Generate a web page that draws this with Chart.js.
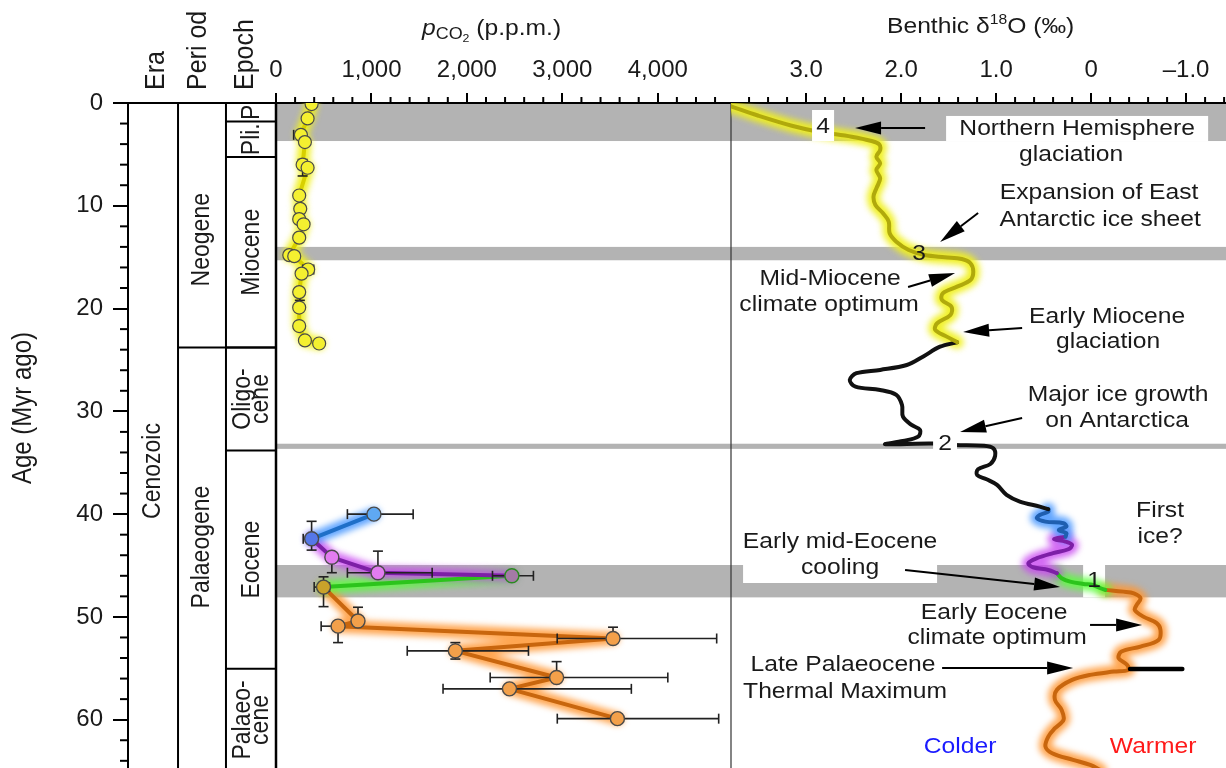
<!DOCTYPE html>
<html>
<head>
<meta charset="utf-8">
<script src="https://cdn.jsdelivr.net/npm/chart.js@4.4.1/dist/chart.umd.min.js"></script>
<style>
  html, body { margin: 0; padding: 0; background: #fff; }
  #wrap { width: 1226px; height: 768px; }
</style>
</head>
<body>
<div id="wrap"><canvas id="chart" width="1226" height="768"></canvas></div>
<script>
// Axis ranges and tick labels
const ageMax = 64.7;
const co2Max = 4767;
const o18Min = -1.42, o18Max = 3.79;
const ageTicks = [0, 10, 20, 30, 40, 50, 60];
const co2Ticks = [0, 1000, 2000, 3000, 4000];
const o18Ticks = [3, 2, 1, 0, -1];

// Neogene pCO2 (yellow)
const neoAge = [0.1, 1.5, 3.1, 3.8, 6.0, 6.3, 9.0, 10.3, 11.3, 11.8, 13.1, 14.8, 14.9, 16.2, 16.6, 18.4, 19.9, 21.7, 23.1, 23.4];
const neoCo2 = [373, 331, 261, 303, 279, 331, 243, 254, 243, 289, 243, 139, 191, 337, 268, 243, 243, 243, 303, 452];

// Palaeogene pCO2 (blue -> purple -> green -> orange)
const eoAge = [40.0, 42.4, 44.2, 45.7, 46.0, 47.1, 50.4, 50.9, 52.1, 53.3, 55.9, 57.0, 59.9];
const eoCo2 = [1026, 373, 585, 1068, 2471, 498, 859, 650, 3531, 1879, 2940, 2446, 3577];
const eoBlue = [0, 1], eoPurple = [1, 4], eoGreen = [4, 5], eoOrange = [5, 12]; // index ranges

// pCO2 error bars
const co2ErrAge = [3.1, 16.2, 40.0, 42.4, 45.7, 46.0, 47.1, 50.9, 52.1, 53.3, 55.9, 57.0, 59.9];
const co2ErrLo = [185, 280, 748, 285, 748, 2268, 400, 473, 2946, 1375, 2244, 1750, 2947];
const co2ErrHi = [300, 395, 1437, 420, 1636, 2697, 560, 700, 4617, 2645, 4105, 3723, 4638];
const ageErrCo2 = [279, 250, 373, 585, 1068, 498, 859, 650, 3531, 1879, 2940];
const ageErrTop = [5.5, 18.4, 40.7, 43.8, 43.6, 46.1, 49.06, 50.45, 51.0, 52.5, 54.35];
const ageErrBot = [7.1, 19.2, 43.5, 45.7, 45.7, 49.0, 50.4, 52.5, 52.1, 54.1, 55.9];

// Benthic d18O curve, split by colour
const o18YelAge = [0.3, 1.24, 2.21, 2.79, 3.28, 3.70, 4.02, 4.57, 5.22, 5.87, 6.52, 7.33, 8.30, 9.11, 9.92, 10.73, 11.54, 12.68, 13.49, 14.30, 14.79, 15.01, 15.18, 15.59, 16.41, 17.22, 17.87, 18.51, 19.16, 19.82, 20.62, 21.43, 22.08, 22.73, 23.28];
const o18YelVal = [3.80, 3.50, 3.15, 2.87, 2.52, 2.31, 2.23, 2.22, 2.26, 2.22, 2.26, 2.22, 2.26, 2.29, 2.27, 2.19, 2.13, 2.12, 2.05, 1.92, 1.75, 1.54, 1.36, 1.27, 1.24, 1.27, 1.41, 1.56, 1.57, 1.47, 1.48, 1.62, 1.64, 1.52, 1.41];
const o18BlkAge = [23.28, 23.71, 24.68, 25.49, 25.97, 26.29, 26.95, 27.60, 27.92, 28.40, 29.38, 30.52, 31.32, 31.81, 32.46, 32.88, 33.20, 33.17, 33.14, 33.27, 33.34, 33.59, 34.34, 35.12, 35.63, 36.19, 36.61, 37.16, 38.13, 38.78, 39.27, 39.52];
const o18BlkVal = [1.41, 1.59, 1.77, 1.94, 2.22, 2.47, 2.54, 2.48, 2.22, 2.05, 1.99, 1.98, 1.89, 1.80, 1.82, 1.98, 2.17, 1.94, 1.66, 1.43, 1.13, 1.03, 1.01, 1.06, 1.19, 1.20, 1.10, 0.99, 0.89, 0.75, 0.54, 0.45];
const o18BluAge = [39.52, 39.76, 40.08, 40.40, 40.73, 40.89, 41.22, 41.54, 41.86, 42.19];
const o18BluVal = [0.45, 0.45, 0.54, 0.57, 0.48, 0.29, 0.26, 0.34, 0.26, 0.27];
const o18PurAge = [42.19, 42.45, 42.67, 43.0, 43.42, 43.80, 44.29, 44.78, 45.17, 45.43, 45.75];
const o18PurVal = [0.27, 0.39, 0.27, 0.20, 0.24, 0.40, 0.57, 0.66, 0.61, 0.45, 0.36];
const o18GrnAge = [45.75, 46.24, 46.57, 46.79, 46.89, 47.21, 47.37];
const o18GrnVal = [0.36, 0.31, 0.22, 0.08, -0.02, -0.10, -0.15];
const o18OrgAge = [47.37, 47.54, 47.70, 48.18, 48.83, 49.32, 49.97, 50.61, 51.26, 52.24, 52.89, 53.37, 54.02, 54.67, 55.16, 55.32, 55.64, 56.13, 57.10, 58.07, 59.05, 60.02, 60.83, 61.64, 62.62, 63.26, 63.91, 64.40, 64.90];
const o18OrgVal = [-0.15, -0.34, -0.45, -0.52, -0.48, -0.46, -0.55, -0.69, -0.73, -0.71, -0.52, -0.32, -0.29, -0.38, -0.39, -0.24, 0.01, 0.20, 0.36, 0.38, 0.31, 0.29, 0.38, 0.45, 0.48, 0.41, 0.19, 0.01, -0.10];
const petmAge = [55.06, 55.06];
const petmVal = [-0.41, -0.96];

// Grey bands (glacial events), ages
const bandTop = [0.1, 14.0, 33.15, 44.95];
const bandBot = [3.7, 15.3, 33.65, 48.1];

// Geological time scale
const epochNames = ['P', 'Pli.', 'Miocene', 'Oligo-\ncene', 'Eocene', 'Palaeo-\ncene'];
const epochTop = [0, 1.8, 5.25, 23.8, 33.8, 55.05];
const epochBot = [1.8, 5.25, 23.8, 33.8, 55.05, 65];
const periodNames = ['Neogene', 'Palaeogene'];
const periodBoundary = 23.8;
const periodLabelAt = [13.3, 43.2];
const eraNames = ['Cenozoic'];
const eraLabelAt = [35.8];

const FONT = "'Liberation Sans', Arial, Helvetica, sans-serif";
const SX = 1.12; // the figure's lettering is slightly wide

const pts = (ages, vals) => ages.map((a, i) => ({ x: vals[i], y: a }));
const slice = (arr, r) => arr.slice(r[0], r[1] + 1);

function lineSet(ages, vals, axis, color, width, tension, order, glow) {
    return {
        data: pts(ages, vals), xAxisID: axis, yAxisID: 'y', showLine: true,
        borderColor: color, borderWidth: width, pointRadius: 0, pointHoverRadius: 0,
        tension: tension, order: order, borderJoinStyle: 'round', borderCapStyle: 'round',
        fill: false, glow: glow
    };
}
function glowPair(ages, vals, axis, core, halo, tension) {
    return [
        lineSet(ages, vals, axis, halo, 13, tension, 30, true),
        lineSet(ages, vals, axis, core, 4, tension, 10, false)
    ];
}

const eoFill = ['#5fa8f2', '#5577e8', '#e27cf0', '#e27cf0', '#a47aa6', '#c9a22a', '#f3a04a', '#f3a04a', '#f3a04a', '#f3a04a', '#f3a04a', '#f3a04a', '#f3a04a'];
const eoStroke = eoFill.map((c, i) => i === 4 ? '#2a8a20' : '#4a4a4a');

const datasets = [
    // benthic curve
    ...glowPair(o18YelAge, o18YelVal, 'xo', '#b0a90c', 'rgba(240,240,30,0.95)', 0.35),
    lineSet(o18BlkAge, o18BlkVal, 'xo', '#111111', 4, 0.35, 10, false),
    ...glowPair(o18BluAge, o18BluVal, 'xo', '#1f5fb0', 'rgba(70,150,255,0.85)', 0.35),
    ...glowPair(o18PurAge, o18PurVal, 'xo', '#7d1fa6', 'rgba(200,70,240,0.8)', 0.35),
    ...glowPair(o18GrnAge, o18GrnVal, 'xo', '#2cc41c', 'rgba(90,255,60,0.85)', 0.35),
    ...glowPair(o18OrgAge, o18OrgVal, 'xo', '#c8660e', 'rgba(255,150,50,0.85)', 0.35),
    lineSet(petmAge, petmVal, 'xo', '#000000', 4.5, 0, 9, false),
    // pCO2 lines
    ...glowPair(neoAge, neoCo2, 'xc', '#d8d000', 'rgba(240,240,30,0.95)', 0),
    ...glowPair(slice(eoAge, eoBlue), slice(eoCo2, eoBlue), 'xc', '#1f6fc8', 'rgba(70,150,255,0.85)', 0),
    ...glowPair(slice(eoAge, eoPurple), slice(eoCo2, eoPurple), 'xc', '#7d1fa6', 'rgba(200,70,240,0.8)', 0),
    ...glowPair(slice(eoAge, eoGreen), slice(eoCo2, eoGreen), 'xc', '#2cc41c', 'rgba(90,255,60,0.85)', 0),
    ...glowPair(slice(eoAge, eoOrange), slice(eoCo2, eoOrange), 'xc', '#c8660e', 'rgba(255,150,50,0.85)', 0),
    // pCO2 points
    {
        data: pts(neoAge, neoCo2), xAxisID: 'xc', yAxisID: 'y', showLine: false, order: 1,
        pointRadius: 6.5, pointBackgroundColor: '#f4f030', pointBorderColor: '#4a4a4a', pointBorderWidth: 1.2,
        errorBars: true
    },
    {
        data: pts(eoAge, eoCo2), xAxisID: 'xc', yAxisID: 'y', showLine: false, order: 1,
        pointRadius: 7, pointBackgroundColor: eoFill, pointBorderColor: eoStroke, pointBorderWidth: 1.4,
        errorBars: true
    }
];

// Annotations on the benthic panel, in (d18O, age)
const notes = [
    ['Northern Hemisphere', 0.147, 2.53], ['glaciation', 0.21, 5.06],
    ['Expansion of East', -0.084, 8.75], ['Antarctic ice sheet', -0.095, 11.38],
    ['Mid-Miocene', 2.747, 17.12], ['climate optimum', 2.758, 19.65],
    ['Early Miocene', -0.168, 20.82], ['glaciation', -0.179, 23.25],
    ['Major ice growth', -0.284, 28.40], ['on Antarctica', -0.274, 30.93],
    ['First', -0.726, 39.69], ['ice?', -0.726, 42.22],
    ['Early mid-Eocene', 2.642, 42.70], ['cooling', 2.642, 45.23],
    ['Early Eocene', 1.021, 49.61], ['climate optimum', 0.989, 52.04],
    ['Late Palaeocene', 2.611, 54.67], ['Thermal Maximum', 2.589, 57.30]
];
const arrows = [
    [1.747, 2.43, 2.484, 2.43], [1.189, 10.70, 1.589, 13.52], [1.926, 17.90, 1.432, 16.54],
    [0.726, 21.89, 1.347, 22.28], [0.726, 30.64, 1.379, 32.00], [1.958, 45.43, 0.326, 47.08],
    [0.011, 50.78, -0.537, 50.78], [1.568, 54.96, 0.189, 54.96]
];

function txt(ctx, text, x, y, size, o) {
    o = o || {};
    ctx.save();
    ctx.translate(x, y);
    ctx.scale(SX, 1);
    if (o.rotate) ctx.rotate(-Math.PI / 2);
    ctx.font = (o.style || '') + ' ' + size + 'px ' + FONT;
    ctx.fillStyle = o.color || '#1a1a1a';
    ctx.textAlign = o.align || 'center';
    ctx.textBaseline = o.baseline || 'middle';
    const lines = text.split('\n');
    const lh = o.lh || size;
    lines.forEach((l, i) => ctx.fillText(l, 0, (i - (lines.length - 1) / 2) * lh));
    ctx.restore();
}
function runs(ctx, parts, x, y) {
    let cx = x;
    parts.forEach(([t, size, dy, style]) => {
        ctx.font = (style || '') + ' ' + size + 'px ' + FONT;
        const w = ctx.measureText(t).width * SX;
        txt(ctx, t, cx, y + dy, size, { align: 'left', baseline: 'alphabetic', style });
        cx += w;
    });
}
function seg(ctx, x0, y0, x1, y1) {
    ctx.beginPath(); ctx.moveTo(x0, y0); ctx.lineTo(x1, y1); ctx.stroke();
}
function arrow(ctx, x0, y0, x1, y1) {
    const a = Math.atan2(y1 - y0, x1 - x0), L = 26, W = 6.5;
    const bx = x1 - L * Math.cos(a), by = y1 - L * Math.sin(a);
    seg(ctx, x0, y0, bx, by);
    ctx.beginPath();
    ctx.moveTo(x1, y1);
    ctx.lineTo(bx + W * Math.sin(a), by - W * Math.cos(a));
    ctx.lineTo(bx - W * Math.sin(a), by + W * Math.cos(a));
    ctx.closePath(); ctx.fill();
}
function boxData(ctx, xo, y, d0, d1, a0, a1) {
    const x0 = xo.getPixelForValue(d0), x1 = xo.getPixelForValue(d1);
    const y0 = y.getPixelForValue(a0), y1 = y.getPixelForValue(a1);
    ctx.fillRect(Math.min(x0, x1), y0, Math.abs(x1 - x0), y1 - y0);
}
function drawErrors(chart) {
    const { ctx, scales: { xc, y } } = chart;
    ctx.save();
    ctx.strokeStyle = '#222'; ctx.lineWidth = 1.6;
    co2ErrAge.forEach((a, i) => {
        const py = y.getPixelForValue(a), x0 = xc.getPixelForValue(co2ErrLo[i]), x1 = xc.getPixelForValue(co2ErrHi[i]);
        seg(ctx, x0, py, x1, py); seg(ctx, x0, py - 5, x0, py + 5); seg(ctx, x1, py - 5, x1, py + 5);
    });
    ageErrCo2.forEach((v, i) => {
        const px = xc.getPixelForValue(v), y0 = y.getPixelForValue(ageErrTop[i]), y1 = y.getPixelForValue(ageErrBot[i]);
        seg(ctx, px, y0, px, y1); seg(ctx, px - 5, y0, px + 5, y0); seg(ctx, px - 5, y1, px + 5, y1);
    });
    ctx.restore();
}

// Plugin: time scale strip, grey bands, minor ticks, titles, glow and annotations
const paperPlugin = {
    id: 'paper',
    beforeDatasetsDraw(chart) {
        const { ctx, chartArea: ca, scales: { xs, xc, xo, y } } = chart;
        chart.$errDone = false;
        ctx.save();
        // grey bands
        ctx.fillStyle = '#b3b3b3';
        bandTop.forEach((t, i) => {
            const y0 = y.getPixelForValue(t), y1 = y.getPixelForValue(bandBot[i]);
            ctx.fillRect(xc.left, y0, ca.right - xc.left, y1 - y0);
        });
        ctx.fillStyle = '#ffffff';
        boxData(ctx, xo, y, 3.663, 1.621, 44.95, 46.7);   // behind "Early mid-Eocene cooling"
        boxData(ctx, xo, y, 0.084, -0.147, 44.95, 48.1);  // behind "1"

        // time scale columns
        const cols = [0, 0.338, 0.662, 1].map(v => xs.getPixelForValue(v));
        ctx.strokeStyle = '#000';
        ctx.lineWidth = 2;
        seg(ctx, cols[1], ca.top, cols[1], ca.bottom);
        seg(ctx, cols[2], ca.top, cols[2], ca.bottom);
        ctx.lineWidth = 2.5;
        seg(ctx, cols[3], ca.top, cols[3], ca.bottom);
        ctx.lineWidth = 2;
        const pb = y.getPixelForValue(periodBoundary);
        seg(ctx, cols[1], pb, cols[3], pb);
        epochTop.forEach((t, i) => {
            if (i === 0) return;
            const py = y.getPixelForValue(t);
            seg(ctx, cols[2], py, cols[3], py);
        });
        const epX = (cols[2] + cols[3]) / 2;
        epochNames.forEach((n, i) => {
            const py = (y.getPixelForValue(epochTop[i]) + y.getPixelForValue(Math.min(epochBot[i], ageMax + 0.6))) / 2;
            txt(ctx, n, epX + 1, py, 23, { rotate: true, lh: 16 });
        });
        periodNames.forEach((n, i) => txt(ctx, n, (cols[1] + cols[2]) / 2, y.getPixelForValue(periodLabelAt[i]), 23, { rotate: true }));
        eraNames.forEach((n, i) => txt(ctx, n, (cols[0] + cols[1]) / 2, y.getPixelForValue(eraLabelAt[i]), 23, { rotate: true }));
        // column headers
        [['Era', 0.189], ['Peri od', 0.473], ['Epoch', 0.79]].forEach(([n, v]) =>
            txt(ctx, n, xs.getPixelForValue(v), ca.top - 13, 25, { rotate: true, align: 'left' }));

        // panel separator
        ctx.strokeStyle = '#333'; ctx.lineWidth = 1.2;
        seg(ctx, xo.left, ca.top, xo.left, ca.bottom);

        // minor ticks
        ctx.strokeStyle = '#000'; ctx.lineWidth = 2;
        for (let a = 2; a <= 64; a += 2) {
            if (a % 10 === 0) continue;
            const py = y.getPixelForValue(a);
            seg(ctx, ca.left - 8, py, ca.left, py);
        }
        for (let v = 200; v < co2Max; v += 200) {
            if (v % 1000 === 0) continue;
            const px = xc.getPixelForValue(v);
            seg(ctx, px, ca.top - 6, px, ca.top);
        }
        for (let k = -7; k <= 18; k++) {
            if (k % 5 === 0) continue;
            const px = xo.getPixelForValue(k * 0.2);
            seg(ctx, px, ca.top - 6, px, ca.top);
        }

        // titles
        runs(ctx, [['p', 22, 0, 'italic'], ['CO', 16, 4], ['2', 11, 7], [' (p.p.m.)', 22, 0]], 422, 35);
        runs(ctx, [['Benthic \u03b4', 22, 0], ['18', 14, -9], ['O (\u2030)', 22, 0]], 887, 33);
        txt(ctx, 'Age (Myr ago)', 24, 408, 24, { rotate: true });
        ctx.restore();
    },
    beforeDatasetDraw(chart, args) {
        const ds = chart.data.datasets[args.index];
        if (ds.errorBars && !chart.$errDone) {
            drawErrors(chart);
            chart.$errDone = true;
        }
        if (ds.glow) {
            chart.ctx.save();
            chart.ctx.filter = 'blur(3px)';
        }
    },
    afterDatasetDraw(chart, args) {
        if (chart.data.datasets[args.index].glow) chart.ctx.restore();
    },
    afterDatasetsDraw(chart) {
        const { ctx, scales: { xo, y } } = chart;
        ctx.save();
        ctx.fillStyle = '#ffffff';
        boxData(ctx, xo, y, 1.526, -1.232, 1.26, 3.7);   // "Northern Hemisphere" box
        boxData(ctx, xo, y, 2.937, 2.705, 0.68, 3.7);    // "4" box
        boxData(ctx, xo, y, 1.663, 1.411, 32.3, 34.1);   // "2" box
        txt(ctx, '4', xo.getPixelForValue(2.821), y.getPixelForValue(2.33), 22);
        txt(ctx, '3', xo.getPixelForValue(1.811), y.getPixelForValue(14.69), 22);
        txt(ctx, '2', xo.getPixelForValue(1.537), y.getPixelForValue(33.17), 22);
        txt(ctx, '1', xo.getPixelForValue(-0.032), y.getPixelForValue(46.5), 22);
        notes.forEach(([t, d, a]) => txt(ctx, t, xo.getPixelForValue(d), y.getPixelForValue(a), 22));
        txt(ctx, 'Colder', xo.getPixelForValue(1.379), y.getPixelForValue(62.65), 22, { color: '#1a1aff' });
        txt(ctx, 'Warmer', xo.getPixelForValue(-0.653), y.getPixelForValue(62.65), 22, { color: '#ff1a1a' });
        ctx.strokeStyle = '#000'; ctx.fillStyle = '#000'; ctx.lineWidth = 2;
        arrows.forEach(([d0, a0, d1, a1]) => arrow(ctx,
            xo.getPixelForValue(d0), y.getPixelForValue(a0), xo.getPixelForValue(d1), y.getPixelForValue(a1)));
        ctx.restore();
    }
};

const tickFont = { family: FONT, size: 24 };

// fix axis box sizes and drop the label overhang padding so the plot fills the canvas
function fixBox(w, h) {
    return s => {
        if (w) s.width = w;
        if (h) s.height = h;
        s.paddingLeft = s.paddingRight = s.paddingTop = s.paddingBottom = 0;
    };
}

// The top axes share one stack; Chart.js places them right-to-left in this order
new Chart(document.getElementById('chart'), {
    type: 'scatter',
    data: { datasets: datasets },
    options: {
        responsive: false,
        animation: false,
        layout: { padding: 0, autoPadding: false },
        plugins: { legend: { display: false }, tooltip: { enabled: false } },
        scales: {
            xo: {
                type: 'linear', position: 'top', stack: 'top', stackWeight: 495, reverse: true, min: o18Min, max: o18Max,
                afterBuildTicks: s => { s.ticks = o18Ticks.map(v => ({ value: v })); },
                afterFit: fixBox(0, 103),
                ticks: { font: tickFont, color: '#1a1a1a', padding: 8, maxRotation: 0, autoSkip: false,
                         callback: v => v === 0 ? '0' : (v < 0 ? '\u2013' + Math.abs(v).toFixed(1) : v.toFixed(1)) },
                grid: { drawOnChartArea: false, tickLength: 10, color: '#000', lineWidth: 2 },
                border: { color: '#000', width: 2 }
            },
            xc: {
                type: 'linear', position: 'top', stack: 'top', stackWeight: 455, min: 0, max: co2Max,
                afterBuildTicks: s => { s.ticks = co2Ticks.map(v => ({ value: v })); },
                afterFit: fixBox(0, 103),
                ticks: { font: tickFont, color: '#1a1a1a', padding: 8, maxRotation: 0, autoSkip: false,
                         callback: v => v.toLocaleString('en-US') },
                grid: { drawOnChartArea: false, tickLength: 10, color: '#000', lineWidth: 2 },
                border: { color: '#000', width: 2 }
            },
            xs: {
                type: 'linear', position: 'top', stack: 'top', stackWeight: 148, min: 0, max: 1,
                afterFit: fixBox(0, 103),
                ticks: { display: false },
                grid: { display: false },
                border: { display: true, color: '#000', width: 2 }
            },
            y: {
                type: 'linear', position: 'left', reverse: true, min: 0, max: ageMax,
                afterBuildTicks: s => { s.ticks = ageTicks.map(v => ({ value: v })); },
                afterFit: fixBox(128, 0),
                ticks: { font: tickFont, color: '#1a1a1a', padding: 10 },
                grid: { drawOnChartArea: false, tickLength: 15, color: '#000', lineWidth: 2 },
                border: { color: '#000', width: 2 }
            }
        }
    },
    plugins: [paperPlugin]
});
</script>
</body>
</html>
